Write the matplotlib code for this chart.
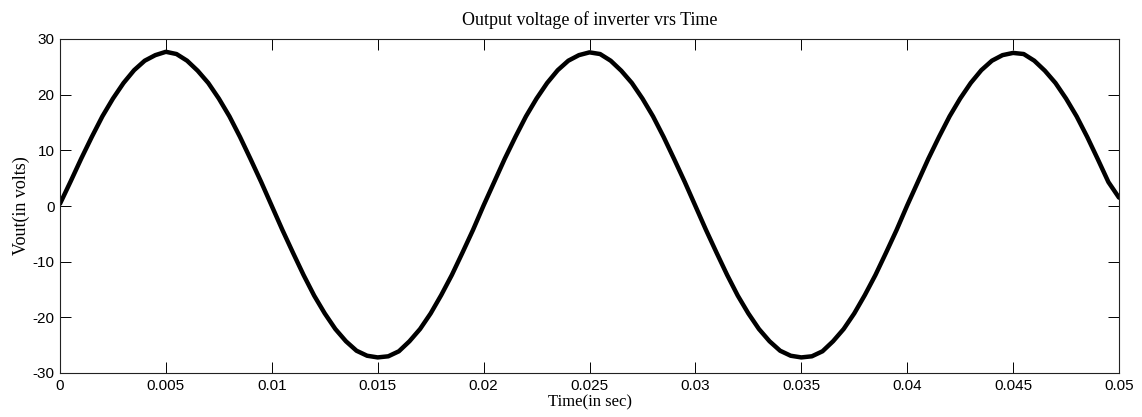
import numpy as np
import matplotlib.pyplot as plt

plt.rcParams["axes.unicode_minus"] = False

# ---------------------------------------------------------------------
# Valores (tiempo en ms, tension en V)
# ---------------------------------------------------------------------
t_ms = [
    0.0, 0.5, 1.0, 1.5, 2.0, 2.5, 3.0, 3.5, 4.0, 4.5,
    5.0, 5.5, 6.0, 6.5, 7.0, 7.5, 8.0, 8.5, 9.0, 9.5,
    10.0, 10.5, 11.0, 11.5, 12.0, 12.5, 13.0, 13.5, 14.0, 14.5,
    15.0, 15.5, 16.0, 16.5, 17.0, 17.5, 18.0, 18.5, 19.0, 19.5,
    20.0, 20.5, 21.0, 21.5, 22.0, 22.5, 23.0, 23.5, 24.0, 24.5,
    25.0, 25.5, 26.0, 26.5, 27.0, 27.5, 28.0, 28.5, 29.0, 29.5,
    30.0, 30.5, 31.0, 31.5, 32.0, 32.5, 33.0, 33.5, 34.0, 34.5,
    35.0, 35.5, 36.0, 36.5, 37.0, 37.5, 38.0, 38.5, 39.0, 39.5,
    40.0, 40.5, 41.0, 41.5, 42.0, 42.5, 43.0, 43.5, 44.0, 44.5,
    45.0, 45.5, 46.0, 46.5, 47.0, 47.5, 48.0, 48.5, 49.0, 49.5,
    50.0,
]
vout = [
    0.4, 4.4, 8.5, 12.4, 16.1, 19.3, 22.1, 24.4, 26.1, 27.1,
    27.7, 27.3, 26.1, 24.3, 22.1, 19.3, 16.1, 12.4, 8.4, 4.3,
    0.0, -4.3, -8.4, -12.4, -16.1, -19.3, -22.1, -24.3, -26.0, -26.9,
    -27.2, -27.0, -26.1, -24.3, -22.1, -19.3, -16.0, -12.4, -8.4, -4.3,
    0.1, 4.3, 8.5, 12.4, 16.1, 19.3, 22.1, 24.4, 26.1, 27.1,
    27.6, 27.3, 26.1, 24.3, 22.1, 19.3, 16.1, 12.4, 8.4, 4.3,
    0.0, -4.3, -8.4, -12.4, -16.1, -19.3, -22.1, -24.3, -26.0, -26.9,
    -27.2, -27.0, -26.1, -24.3, -22.1, -19.3, -16.0, -12.4, -8.4, -4.3,
    0.1, 4.3, 8.5, 12.4, 16.1, 19.3, 22.1, 24.4, 26.1, 27.1,
    27.5, 27.3, 26.1, 24.3, 22.1, 19.3, 16.1, 12.4, 8.4, 4.3,
    1.5,
]
xticks = [0, 0.005, 0.01, 0.015, 0.02, 0.025, 0.03, 0.035, 0.04, 0.045, 0.05]
xticklabels = ["0", "0.005", "0.01", "0.015", "0.02", "0.025",
               "0.03", "0.035", "0.04", "0.045", "0.05"]
yticks = [-30, -20, -10, 0, 10, 20, 30]

t = np.array(t_ms) / 1000.0

# ---------------------------------------------------------------------
# Figura
# ---------------------------------------------------------------------
fig = plt.figure(figsize=(11.42, 4.17), dpi=100)
ax = fig.add_axes([60 / 1142, 1 - 373 / 417, 1059 / 1142, 334 / 417])

ax.plot(t, vout, color="black", linewidth=3.2, solid_capstyle="round",
        solid_joinstyle="round")

ax.set_xlim(0, 0.05)
ax.set_ylim(-30, 30)
ax.set_xticks(xticks)
ax.set_xticklabels(xticklabels)
ax.set_yticks(yticks)

ax.tick_params(direction="in", length=8, width=0.7, top=True, right=True,
               labelsize=11, pad=4, colors="black")
for lab in ax.get_xticklabels() + ax.get_yticklabels():
    lab.set_family("Liberation Sans")
for s in ax.spines.values():
    s.set_linewidth(0.8)
    s.set_color("#222222")

serif = "Liberation Serif"
ax.set_title("Output voltage of inverter vrs Time", family=serif,
             fontsize=13, pad=10)
ax.set_xlabel("Time(in sec)", family=serif, fontsize=12, labelpad=1)
ax.set_ylabel("Vout(in volts)", family=serif, fontsize=13, labelpad=2)

fig.savefig("out.png", dpi=100)
